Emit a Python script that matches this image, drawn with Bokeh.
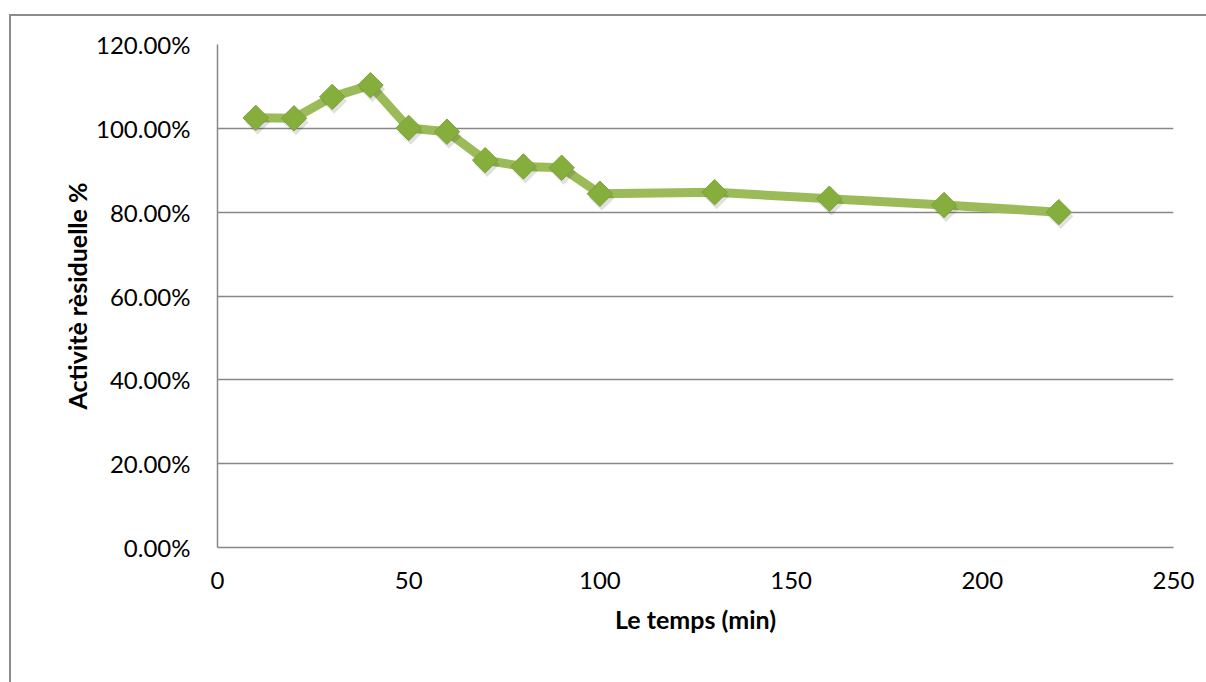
import math
from bokeh.plotting import figure
from bokeh.models import ColumnDataSource, PrintfTickFormatter, FixedTicker, Range1d
from bokeh.transform import dodge
from bokeh.embed import file_html
from bokeh.resources import INLINE

# Data
temps_min = [10, 20, 30, 40, 50, 60, 70, 80, 90, 100, 130, 160, 190, 220]
activite_pct = [102.5, 102.4, 107.5, 110.3, 100.1, 99.2, 92.4, 90.9, 90.6, 84.4, 84.75, 83.2, 81.7, 80.0]
y_ticks = [0, 20, 40, 60, 80, 100, 120]
x_ticks = [0, 50, 100, 150, 200, 250]

FONT = "Lato"
GRID = "#878787"

src = ColumnDataSource(dict(x=temps_min, y=activite_pct))

p = figure(width=1197, height=668, output_backend="svg", toolbar_location=None,
           x_range=Range1d(0, 250), y_range=Range1d(0, 120),
           min_border_left=206, min_border_right=35, min_border_top=28, min_border_bottom=137)
p.styles = {"margin-left": "9px", "margin-top": "14px",
            "border-top": "2px solid #8c8c8c", "border-left": "2px solid #8c8c8c"}
p.outline_line_color = None
p.background_fill_color = "white"
p.border_fill_color = "white"

p.xgrid.grid_line_color = None
p.ygrid.grid_line_color = GRID
p.ygrid.grid_line_width = 1.5
p.ygrid.ticker = FixedTicker(ticks=y_ticks)

p.yaxis.ticker = FixedTicker(ticks=y_ticks)
p.xaxis.ticker = FixedTicker(ticks=x_ticks)
p.yaxis.formatter = PrintfTickFormatter(format="%.2f%%")
for ax in (p.xaxis[0], p.yaxis[0]):
    ax.axis_line_color = GRID
    ax.axis_line_width = 1.5
    ax.major_tick_line_color = None
    ax.minor_tick_line_color = None
    ax.major_label_text_font = FONT
    ax.major_label_text_font_size = "24px"
    ax.major_label_text_color = "black"
    ax.axis_label_text_font = FONT
    ax.axis_label_text_font_size = "25px"
    ax.axis_label_text_font_style = "bold"
    ax.axis_label_text_color = "black"
p.yaxis.major_label_standoff = 21
p.xaxis.major_label_standoff = 18
p.xaxis.axis_label = "Le temps (min)"
p.yaxis.axis_label = "Activitè rèsiduelle %"
p.xaxis.axis_label_standoff = 12
p.yaxis.axis_label_standoff = 1

p.line("x", "y", source=src, line_color="#9BBB59", line_width=9, line_join="round", line_cap="round")
# soft shadow under markers
p.scatter(dodge("x", 0.5), dodge("y", -1.0), source=src, marker="square", size=18, angle=math.pi / 4,
          fill_color="#000000", fill_alpha=0.12, line_color=None)
p.scatter("x", "y", source=src, marker="square", size=18, angle=math.pi / 4,
          fill_color="#85AE3C", line_color="#7BA335", line_width=1)

open("out.html", "w").write(file_html(p, INLINE))
